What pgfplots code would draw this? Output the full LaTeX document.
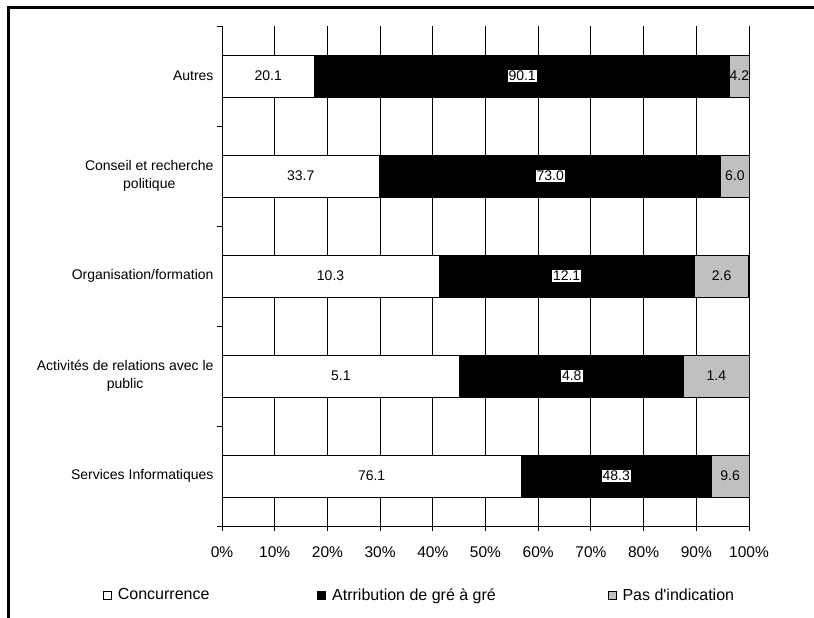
\documentclass[border=0pt]{standalone}
\usepackage{pgfplots}
\pgfplotsset{compat=1.18}
\usepackage{pgfplotstable}
\usepackage{fontspec}
\setmainfont{Liberation Sans}[Ligatures=TeXOff]
\definecolor{pasgray}{RGB}{192,192,192}

\pgfplotstableread{
y a b c
0 76.1 48.3 9.6
1 5.1 4.8 1.4
2 10.3 12.1 2.6
3 33.7 73.0 6.0
4 20.1 90.1 4.2
}\data

\begin{document}
\begin{tikzpicture}
\path[use as bounding box] (0,0) rectangle (814pt,-618pt);
\draw[line width=3pt] (8pt,-620pt) -- (8pt,-8pt) -- (816pt,-8pt);
\begin{axis}[
  at={(222pt,-526pt)}, anchor=south west,
  scale only axis, width=527pt, height=500pt,
  xbar stacked, bar width=42pt,
  xmin=0, xmax=100, ymin=-0.5, ymax=4.5,
  axis x line*=bottom, axis y line*=left,
  axis line style={line width=1pt, -},
  xtick={0,10,...,100},
  xticklabel={\pgfmathprintnumber{\tick}\%},
  /pgf/number format/assume math mode=true,
  ytick={0,...,4},
  yticklabels={Services Informatiques, {Activités de relations avec le\\public}, Organisation/formation, {Conseil et recherche\\politique}, Autres},
  yticklabel style={align=center, font=\fontsize{14}{18}\selectfont},
  xticklabel style={font=\fontsize{15.5}{18}\selectfont, yshift=-12pt},
  minor ytick={-0.5,0.5,...,4.5},
  tick align=outside, major tick length=5pt, minor tick length=5pt,
  tick style={black, line width=1pt},
  every major y tick/.append style={draw=none},
  xmajorgrids, major grid style={black, line width=1pt},
  legend columns=3,
  legend style={draw=none, fill=none, at={(axis description cs:-0.2315,-0.138)}, anchor=west,
    font=\fontsize{16}{18}\selectfont},
  legend image code/.code={\draw[#1, line width=0.7pt, draw=black] (0pt,-4pt) rectangle (8pt,4pt);},
]
\addplot[fill=white, draw=black, line width=1pt] table[y=y, x expr={100*\thisrow{a}/(\thisrow{a}+\thisrow{b}+\thisrow{c})}]{\data};
\addplot[fill=black, draw=black, line width=1pt] table[y=y, x expr={100*\thisrow{b}/(\thisrow{a}+\thisrow{b}+\thisrow{c})}]{\data};
\addplot[fill=pasgray, draw=black, line width=1pt] table[y=y, x expr={100*\thisrow{c}/(\thisrow{a}+\thisrow{b}+\thisrow{c})}]{\data};
\legend{\hspace*{4pt}Concurrence\hspace*{106pt}, \hspace*{4pt}Atrribution de gré à gré\hspace*{110pt}, \hspace*{4pt}Pas d'indication}
\end{axis}
\begin{axis}[
  at={(222pt,-526pt)}, anchor=south west,
  scale only axis, width=527pt, height=500pt,
  xmin=0, xmax=100, ymin=-0.5, ymax=4.5,
  hide axis, clip=false,
  nodes near coords, point meta=explicit symbolic,
  every node near coord/.append style={anchor=center, font=\fontsize{14}{16}\selectfont, inner sep=1pt, text=black},
]
\addplot[draw=none, mark=none] table[y=y, x expr={50*\thisrow{a}/(\thisrow{a}+\thisrow{b}+\thisrow{c})}, meta=a]{\data};
\addplot[draw=none, mark=none, every node near coord/.append style={fill=white}] table[y=y, x expr={100*(\thisrow{a}+0.5*\thisrow{b})/(\thisrow{a}+\thisrow{b}+\thisrow{c})}, meta=b]{\data};
\addplot[draw=none, mark=none] table[y=y, x expr={100*(\thisrow{a}+\thisrow{b}+0.5*\thisrow{c})/(\thisrow{a}+\thisrow{b}+\thisrow{c})}, meta=c]{\data};
\end{axis}
\end{tikzpicture}
\end{document}
